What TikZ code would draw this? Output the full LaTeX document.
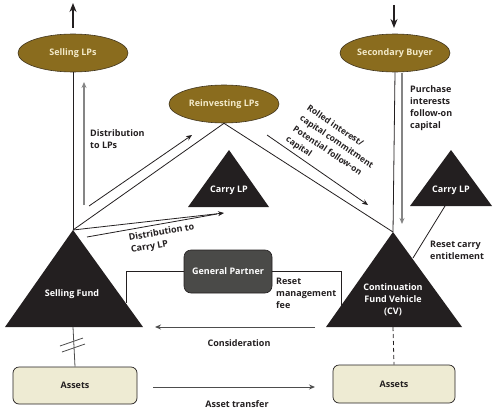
\documentclass[tikz,border=0pt]{standalone}
\usepackage{fontspec}
\setmainfont{Open Sans}
\usetikzlibrary{shapes.geometric,arrows.meta}
\definecolor{lpgold}{HTML}{8A6C1E}
\definecolor{lptext}{HTML}{F3EAC9}
\definecolor{trifill}{HTML}{231F20}
\definecolor{gpfill}{HTML}{4A4A48}
\definecolor{assetfill}{HTML}{EEEBD3}
\definecolor{ink}{HTML}{231F20}
\definecolor{grayarrow}{HTML}{858585}
\definecolor{darkline}{HTML}{4D4D4D}
\begin{document}
\begin{tikzpicture}[x=1pt,y=-1pt,
  font=\fontsize{9}{12}\selectfont\bfseries,
  lpell/.style={ellipse, draw=ink!70!lpgold, line width=0.6pt, fill=lpgold, text=lptext,
    minimum width=110pt, minimum height=38pt, inner sep=0pt},
  trilabel/.style={text=white, align=center, inner sep=0pt},
  conn/.style={draw=ink, line width=0.8pt},
  arr/.style={conn, -{Stealth[length=6pt,width=5pt]}},
  bigarr/.style={draw=ink, line width=1.4pt, -{Stealth[length=9pt,width=7pt]}},
  garr/.style={draw=grayarrow, line width=1.1pt, -{Stealth[length=6pt,width=5pt]}},
  darr/.style={draw=darkline, line width=1pt, -{Stealth[length=6pt,width=5pt]}},
  lbl/.style={text=ink, align=left, inner sep=0pt, anchor=north west},
  assetbox/.style={rectangle, rounded corners=6pt, draw=ink, line width=0.7pt, fill=assetfill,
    text=ink, minimum width=124pt, minimum height=37pt, inner sep=0pt},
  gpbox/.style={rectangle, rounded corners=7pt, draw=ink, line width=0.6pt, fill=gpfill,
    text=white, minimum width=88pt, minimum height=43pt, inner sep=0pt}
]
\useasboundingbox (0,0) rectangle (502,417);

% ---- triangles ----
\fill[trifill] (73,230) coordinate (sfA) -- (143,327) -- (5,327) -- cycle;
\coordinate (sfB) at (73,327);
\fill[trifill] (229,150) coordinate (clA) -- (269,207) -- (188,207) -- cycle;
\fill[trifill] (451,150) coordinate (crA) -- (492,206) -- (410,206) -- cycle;
\fill[trifill] (393,232) coordinate (cvA) -- (462,327) -- (326,327) -- cycle;
\coordinate (cvB) at (393,327);

\node[trilabel] (sfT) at (72,294) {Selling Fund};
\node[trilabel] (clT) at (229,190) {Carry LP};
\node[trilabel] (crT) at (451,190) {Carry LP};
\node[trilabel] (cvT) at (393,300) {Continuation\\Fund Vehicle\\(CV)};

% ---- ellipses ----
\node[lpell] (sellLP) at (73,53) {Selling LPs};
\node[lpell] (reinv) at (224,104) {Reinvesting LPs};
\node[lpell] (sec) at (395,53) {Secondary Buyer};

% ---- boxes ----
\node[gpbox] (gp) at (228,271.5) {General Partner};
\node[assetbox] (assetL) at (75,385.5) {Assets};
\node[assetbox, minimum width=122pt, minimum height=38pt] (assetR) at (394,384) {Assets};

% ---- coordinates ----
\coordinate (upS) at (73,28);   \coordinate (upE) at (73,3);
\coordinate (dnS) at (394,5);   \coordinate (dnE) at (394,28);
\coordinate (g1S) at (84,205);  \coordinate (g1E) at (84,82);
\coordinate (r1S) at (89,206);  \coordinate (r1E) at (192,135);
\coordinate (c1E) at (224,213);
\coordinate (c2S) at (87,237);  \coordinate (c2E) at (217,214);
\coordinate (r2S) at (267,135); \coordinate (r2E) at (368,205);
\coordinate (g2S) at (402,73);  \coordinate (g2E) at (402,224);
\coordinate (crB) at (445,206); \coordinate (cvE) at (413,258);
\coordinate (sfE) at (126,303); \coordinate (cvW) at (341,306);
\coordinate (conS) at (315,327); \coordinate (conE) at (155,327);
\coordinate (atS) at (153,387); \coordinate (atE) at (315,387);

% ---- connectors ----
\draw[bigarr] (upS) -- (upE);
\draw[bigarr] (dnS) -- (dnE);
\draw[conn] (sellLP.south) -- (sfA);
\draw[garr] (g1S) -- (g1E);
\draw[conn] (sfA) -- (reinv.south);
\draw[arr] (r1S) -- (r1E);
\draw[arr] (sfA) -- (c1E);
\draw[conn] (c2S) -- (c2E);
\draw[conn] (reinv.south) -- (cvA);
\draw[arr] (r2S) -- (r2E);
\draw[conn] (sec.south) -- (cvA);
\draw[garr] (g2S) -- (g2E);
\draw[conn] (crB) -- (cvE);
\draw[conn] (gp.west) -| (sfE);
\draw[conn] (gp.east) -| (cvW);
\draw[darr] (conS) -- (conE);
\draw[darr] (atS) -- (atE);
\draw[draw=darkline, line width=0.8pt] (sfB) -- (assetL.north);
\draw[draw=darkline, line width=0.8pt] (60,346) -- (83,338);
\draw[draw=darkline, line width=0.8pt] (62,352) -- (85,344);
\draw[conn, dash pattern=on 4pt off 3pt] (cvB) -- (assetR.north);

% ---- labels ----
\node[lbl] (lDist) at (90,129) {Distribution\\to LPs};
\node[lbl, rotate=10] (lCarry) at (128,234) {Distribution to\\Carry LP};
\node[lbl, rotate=-34, font=\fontsize{8.5}{12.5}\selectfont\bfseries] (lRoll) at (310,104) {Rolled interest/\\capital commitment\\Potential follow-on\\capital};
\node[lbl] (lPur) at (410,85) {Purchase\\interests\\follow-on\\capital};
\node[lbl] (lReset) at (430,241) {Reset carry\\entitlement};
\node[lbl] (lMgmt) at (276,278) {Reset\\management\\fee};
\node[text=ink, inner sep=0pt] (lCons) at (239,343) {Consideration};
\node[text=ink, inner sep=0pt] (lAT) at (237,404) {Asset transfer};
\end{tikzpicture}
\end{document}
